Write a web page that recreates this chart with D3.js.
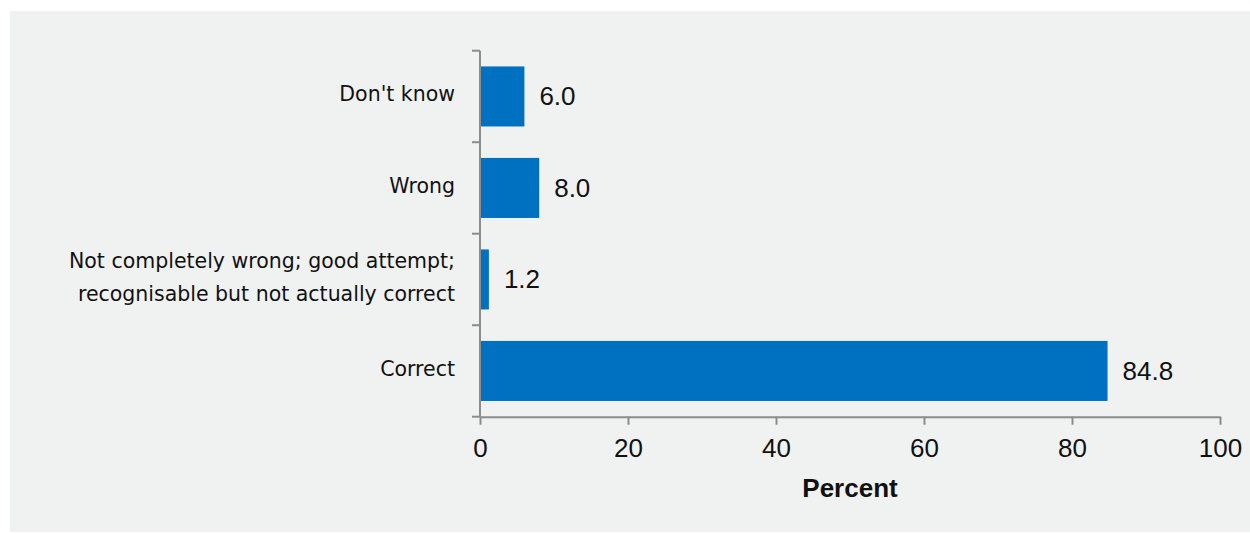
<!DOCTYPE html>
<html>
<head>
<meta charset="utf-8">
<script src="https://cdn.jsdelivr.net/npm/d3@7"></script>
<style>
  html, body { margin: 0; padding: 0; background: #ffffff; }
  svg { display: block; }
</style>
</head>
<body>
<svg id="chart" width="1250" height="534"></svg>
<script>
const categories = [
  ["Don't know"],
  ["Wrong"],
  ["Not completely wrong; good attempt;", "recognisable but not actually correct"],
  ["Correct"]
];
const values = [6.0, 8.0, 1.2, 84.8];
const xTicks = [0, 20, 40, 60, 80, 100];
const xTitle = "Percent";

(function () {
const svg = d3.select("#chart");
svg.append("rect").attr("x", 10).attr("y", 11).attr("width", 1240).attr("height", 521).attr("fill", "#f0f1f1");

const pLeft = 480, pRight = 1220, pTop = 50.7, pBottom = 416.7;
const x = d3.scaleLinear().domain([0, 100]).range([pLeft, pRight]);
const keys = categories.map((c, i) => i);
const y = d3.scaleBand().domain(keys).range([pTop, pBottom]).paddingInner(0.344).paddingOuter(0.172);

const axisColor = "#8c8c8c";
const numFont = "Liberation Sans, Arial, sans-serif";

// bars
svg.selectAll("rect.bar").data(values).enter().append("rect")
  .attr("class", "bar")
  .attr("x", x(0))
  .attr("y", (d, i) => y(i))
  .attr("width", d => x(d) - x(0))
  .attr("height", y.bandwidth())
  .attr("fill", "#0070c0");

// value labels
svg.selectAll("text.val").data(values).enter().append("text")
  .attr("class", "val")
  .attr("x", d => x(d) + 15)
  .attr("y", (d, i) => y(i) + y.bandwidth() / 2)
  .attr("dy", "0.33em")
  .attr("font-family", numFont)
  .attr("font-size", 26)
  .attr("fill", "#111")
  .text(d => d.toFixed(1));

// y axis
const step = y.step();
svg.append("line").attr("x1", pLeft).attr("x2", pLeft).attr("y1", pTop).attr("y2", pBottom)
  .attr("stroke", axisColor).attr("stroke-width", 2);
const yTickPos = d3.range(categories.length + 1).map(i => pTop + i * step);
svg.selectAll("line.ytick").data(yTickPos).enter().append("line")
  .attr("x1", pLeft - 8).attr("x2", pLeft).attr("y1", d => d).attr("y2", d => d)
  .attr("stroke", axisColor).attr("stroke-width", 2);

// category labels
categories.forEach((lines, i) => {
  const cy = y(i) + y.bandwidth() / 2 - 2.5;
  const lh = 33;
  const t = svg.append("text")
    .attr("text-anchor", "end")
    .attr("font-family", "DejaVu Sans, Verdana, sans-serif")
    .attr("font-size", 20.5)
    .attr("fill", "#111");
  lines.forEach((ln, j) => {
    t.append("tspan").attr("x", 455)
      .attr("y", cy + (j - (lines.length - 1) / 2) * lh)
      .attr("dy", "0.35em")
      .text(ln);
  });
});

// x axis
const xAxis = d3.axisBottom(x).tickValues(xTicks).tickSize(8).tickSizeOuter(0).tickFormat(d3.format("d"));
const gx = svg.append("g").attr("transform", `translate(0,${pBottom})`).call(xAxis);
gx.select(".domain").attr("stroke", axisColor).attr("stroke-width", 2);
gx.selectAll(".tick line").attr("stroke", axisColor).attr("stroke-width", 2);
gx.selectAll(".tick text")
  .attr("font-family", numFont)
  .attr("font-size", 26)
  .attr("fill", "#111")
  .attr("y", 21.5)
  .attr("dy", "0.71em");

svg.append("text")
  .attr("x", (pLeft + pRight) / 2)
  .attr("y", 497)
  .attr("text-anchor", "middle")
  .attr("font-family", numFont)
  .attr("font-weight", "bold")
  .attr("font-size", 26)
  .attr("fill", "#111")
  .text(xTitle);
})();
</script>
</body>
</html>
